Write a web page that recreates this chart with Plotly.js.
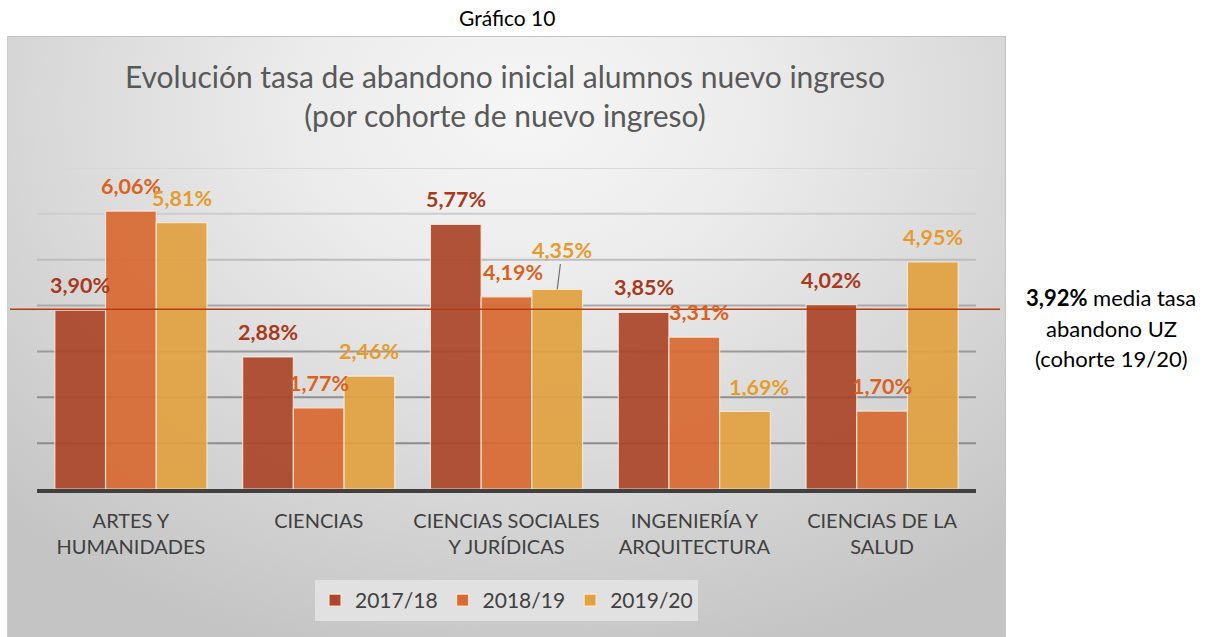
<!DOCTYPE html>
<html>
<head>
<meta charset="utf-8">
<script src="https://cdn.plot.ly/plotly-3.0.1.min.js"></script>
<style>
  html, body { margin: 0; padding: 0; background: #ffffff; }
  #wrap { position: relative; width: 1216px; height: 637px; overflow: hidden; }
  #panel {
    position: absolute; left: 7px; top: 36px; width: 999px; height: 601px;
    box-sizing: border-box; border-top: 1px solid #c3c3c3; border-left: 1px solid #cfcfcf; border-right: 1px solid #c3c3c3;
    background: radial-gradient(ellipse 75% 95% at 52% 12%, #f6f6f6 0%, #ececec 30%, #dadada 62%, #c4c4c4 100%);
  }
  #chart { position: absolute; left: 0; top: 0; width: 1216px; height: 637px; }
</style>
</head>
<body>
<div id="wrap">
  <div id="panel"></div>
  <div id="chart"></div>
</div>
<script>
// ---- data ----
const categories = [
  'ARTES Y<br>HUMANIDADES',
  'CIENCIAS',
  'CIENCIAS SOCIALES<br>Y JURÍDICAS',
  'INGENIERÍA Y<br>ARQUITECTURA',
  'CIENCIAS DE LA<br>SALUD'
];
const seriesNames = ['2017/18', '2018/19', '2019/20'];
const values2017 = [3.90, 2.88, 5.77, 3.85, 4.02];
const values2018 = [6.06, 1.77, 4.19, 3.31, 1.70];
const values2019 = [5.81, 2.46, 4.35, 1.69, 4.95];
const meanUZ = 3.92;
const yTicks = [1, 2, 3, 4, 5, 6, 7];

// ---- styles ----
const barColors = ['#AB472B', '#D86A33', '#E2A242'];
const labelColors = ['#A8391C', '#D9621F', '#E69C2D'];
const FONT = 'Lato, "Open Sans", sans-serif';
const W = 1216, H = 637;
const margin = {l: 37, r: 240, t: 168, b: 148, pad: 0};
const bargap = 0.19;
const plotW = W - margin.l - margin.r;
const plotH = H - margin.t - margin.b;
const catW = plotW / categories.length;
const barW = catW * (1 - bargap) / 3;

const allSeries = [values2017, values2018, values2019];

const traces = allSeries.map((vals, i) => ({
  type: 'bar',
  name: seriesNames[i],
  x: categories,
  y: vals,
  marker: {color: barColors[i], opacity: 0.93, line: {color: 'rgba(255,236,222,0.85)', width: 1.2}},
  hoverinfo: 'skip'
}));

function fmt(v) { return v.toFixed(2).replace('.', ',') + '%'; }

// manual label nudges (series index, category index) -> px
const nudges = {'2-3': {dx: 14, dy: 0}, '1-2': {dx: 6, dy: 0}, '1-3': {dx: 5, dy: 0}};

const LABEL_SIZE = 21.5;
const annotations = [];
allSeries.forEach((vals, i) => {
  vals.forEach((v, c) => {
    const key = i + '-' + c;
    const n = nudges[key] || {dx: 0, dy: 0};
    const xoff = (i - 1) * barW;
    if (i === 2 && c === 2) {
      // label with leader line
      annotations.push({
        xref: 'x', yref: 'y', x: categories[c], y: v, xshift: xoff,
        text: '<b>' + fmt(v) + '</b>', showarrow: true, arrowhead: 0, arrowwidth: 1.2,
        arrowcolor: '#707070', ax: 5, ay: -40, standoff: -3,
        font: {family: FONT, size: LABEL_SIZE, color: labelColors[i]}
      });
    } else {
      annotations.push({
        xref: 'x', yref: 'y', x: categories[c], y: v, xshift: xoff + n.dx, yshift: 25 + n.dy,
        text: '<b>' + fmt(v) + '</b>', showarrow: false, yanchor: 'middle',
        font: {family: FONT, size: LABEL_SIZE, color: labelColors[i]}
      });
    }
  });
});

// outer texts
annotations.push({
  xref: 'paper', yref: 'paper', x: (507 - margin.l) / plotW, y: (H - margin.b - 18) / plotH,
  text: 'Gráfico 10', showarrow: false, xanchor: 'center', yanchor: 'middle',
  font: {family: FONT, size: 21, color: '#000000'}
});
const sideLines = ['<b>' + fmt(meanUZ) + '</b> media tasa', 'abandono UZ', '(cohorte 19/20)'];
const sideY = [297, 328, 358];
sideLines.forEach((t, k) => annotations.push({
  xref: 'paper', yref: 'paper', x: (1111 - margin.l) / plotW, y: (H - margin.b - sideY[k]) / plotH,
  text: t, showarrow: false, xanchor: 'center', yanchor: 'middle',
  font: {family: FONT, size: 22, color: '#000000'}
}));

// gridlines (graded colours), mean line
const gridColors = ['#8c8c8c', '#8f8f8f', '#9a9a9a', '#aaaaaa', '#bdbdbd', '#cdcdcd', '#d8d8d8'];
const shapes = yTicks.map((t, k) => ({
  type: 'line', layer: 'below', xref: 'paper', yref: 'y', x0: 0, x1: 1, y0: t, y1: t,
  line: {color: gridColors[k], width: 2}
}));
shapes.push({
  type: 'line', layer: 'above', xref: 'paper', yref: 'y',
  x0: (10 - margin.l) / plotW, x1: (1000 - margin.l) / plotW, y0: meanUZ, y1: meanUZ,
  line: {color: '#B53A14', width: 1.5}
});

const layout = {
  width: W, height: H,
  margin: margin,
  paper_bgcolor: 'rgba(0,0,0,0)',
  plot_bgcolor: 'rgba(0,0,0,0)',
  barmode: 'group', bargap: bargap, bargroupgap: 0,
  title: {
    text: 'Evolución tasa de abandono inicial alumnos nuevo ingreso<br>(por cohorte de nuevo ingreso)',
    font: {family: FONT, size: 30, color: '#595959'},
    xref: 'container', x: 505 / W, xanchor: 'center',
    yref: 'container', y: 1 - 88 / H, yanchor: 'middle'
  },
  xaxis: {
    type: 'category', showgrid: false, zeroline: false,
    showline: true, linecolor: '#404040', linewidth: 3.5,
    ticks: '', ticklabelstandoff: 11,
    tickfont: {family: FONT, size: 20, color: '#404040'}
  },
  yaxis: {
    range: [0, 7], showgrid: false, zeroline: false, showticklabels: false, ticks: '', showline: false
  },
  showlegend: true,
  legend: {
    orientation: 'h', xref: 'paper', x: 0.5, xanchor: 'center',
    yref: 'paper', y: (H - margin.b - 580) / plotH, yanchor: 'top',
    bgcolor: '#e1e1e1', borderwidth: 0,
    font: {family: FONT, size: 21, color: '#404040'},
    itemwidth: 30, itemclick: false, itemdoubleclick: false,
    traceorder: 'normal'
  },
  annotations: annotations,
  shapes: shapes
};

Plotly.newPlot('chart', traces, layout, {displayModeBar: false, staticPlot: true});
</script>
</body>
</html>
